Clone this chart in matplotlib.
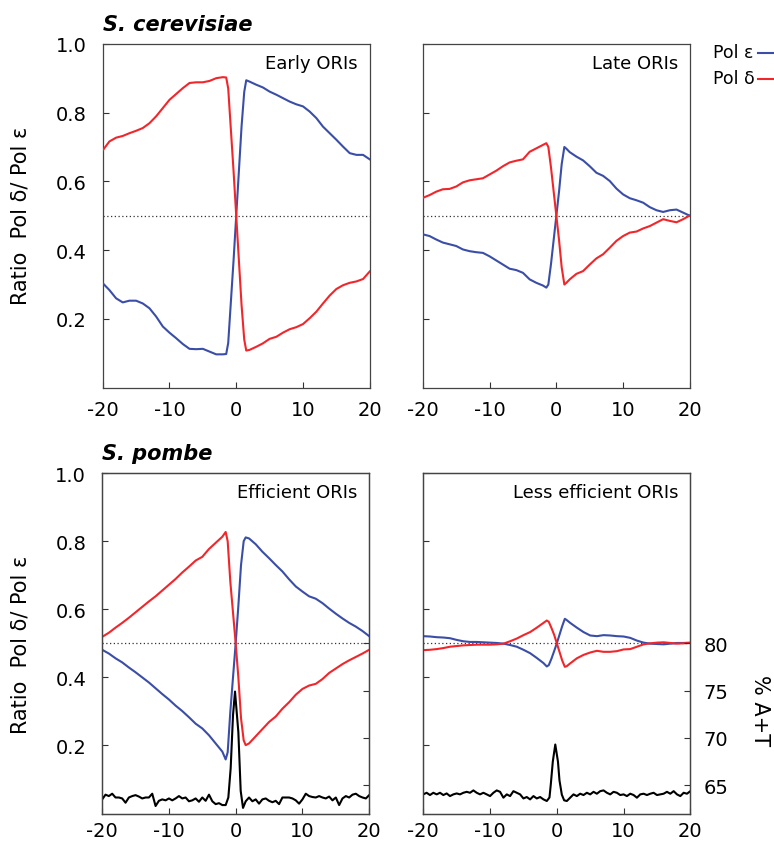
import numpy as np
import matplotlib
matplotlib.use('Agg')
from matplotlib import pyplot as plt
from matplotlib.lines import Line2D

# ---- data (distance to ORI, kb) ----
x_ratio = list(range(-20, -1)) + [-1.5, -1.2, -0.8, -0.4, 0, 0.4, 0.8, 1.2, 1.5] + list(range(2, 21))

# S. cerevisiae, early ORIs
sc_early_delta = [0.690, 0.716, 0.727, 0.732, 0.740, 0.747, 0.755, 0.769, 0.789, 0.813,
                  0.837, 0.854, 0.871, 0.886, 0.888, 0.888, 0.892, 0.900, 0.903,
                  0.902, 0.87, 0.75, 0.63, 0.50, 0.37, 0.24, 0.14, 0.108,
                  0.110, 0.119, 0.129, 0.142, 0.148, 0.160, 0.170, 0.176, 0.185, 0.202,
                  0.221, 0.245, 0.268, 0.287, 0.298, 0.305, 0.309, 0.316, 0.338]
sc_early_eps = [0.304, 0.284, 0.260, 0.248, 0.253, 0.253, 0.245, 0.231, 0.207, 0.178,
                0.160, 0.144, 0.127, 0.113, 0.112, 0.113, 0.105, 0.097, 0.097,
                0.098, 0.13, 0.25, 0.37, 0.50, 0.63, 0.76, 0.86, 0.894,
                0.890, 0.881, 0.873, 0.861, 0.852, 0.842, 0.832, 0.824, 0.818, 0.803,
                0.784, 0.759, 0.740, 0.721, 0.701, 0.682, 0.677, 0.677, 0.664]

# S. cerevisiae, late ORIs
sc_late_delta = [0.552, 0.560, 0.570, 0.577, 0.578, 0.585, 0.597, 0.603, 0.606, 0.609,
                 0.620, 0.631, 0.644, 0.655, 0.660, 0.664, 0.686, 0.696, 0.706,
                 0.711, 0.70, 0.64, 0.57, 0.50, 0.43, 0.35, 0.30, 0.305,
                 0.315, 0.331, 0.339, 0.358, 0.376, 0.388, 0.407, 0.427, 0.441, 0.451,
                 0.454, 0.463, 0.470, 0.480, 0.490, 0.485, 0.481, 0.490, 0.501]
sc_late_eps = [0.446, 0.441, 0.431, 0.422, 0.417, 0.412, 0.402, 0.397, 0.394, 0.392,
               0.382, 0.370, 0.358, 0.346, 0.342, 0.334, 0.315, 0.305, 0.297,
               0.291, 0.30, 0.36, 0.43, 0.50, 0.57, 0.65, 0.70, 0.695,
               0.685, 0.672, 0.661, 0.644, 0.625, 0.616, 0.601, 0.579, 0.562, 0.551,
               0.545, 0.538, 0.525, 0.516, 0.511, 0.516, 0.518, 0.509, 0.500]

# S. pombe, efficient ORIs
sp_eff_delta = [0.519, 0.531, 0.546, 0.560, 0.575, 0.591, 0.607, 0.623, 0.638, 0.655,
                0.672, 0.689, 0.708, 0.725, 0.743, 0.754, 0.777, 0.795, 0.813,
                0.827, 0.80, 0.68, 0.59, 0.50, 0.40, 0.28, 0.215, 0.201,
                0.206, 0.227, 0.248, 0.269, 0.285, 0.308, 0.327, 0.349, 0.366, 0.376,
                0.381, 0.395, 0.413, 0.426, 0.439, 0.450, 0.460, 0.470, 0.481]
sp_eff_eps = [0.481, 0.470, 0.456, 0.444, 0.429, 0.415, 0.400, 0.385, 0.368, 0.351,
              0.335, 0.317, 0.301, 0.283, 0.264, 0.250, 0.230, 0.206, 0.182,
              0.159, 0.18, 0.30, 0.40, 0.50, 0.61, 0.73, 0.80, 0.811,
              0.808, 0.791, 0.769, 0.750, 0.730, 0.711, 0.688, 0.667, 0.652, 0.638,
              0.631, 0.618, 0.602, 0.587, 0.573, 0.560, 0.549, 0.536, 0.521]

# S. pombe, less efficient ORIs
sp_less_delta = [0.480, 0.481, 0.483, 0.486, 0.490, 0.492, 0.494, 0.495, 0.496, 0.496,
                 0.496, 0.497, 0.499, 0.506, 0.514, 0.524, 0.533, 0.546, 0.560,
                 0.567, 0.563, 0.545, 0.525, 0.50, 0.475, 0.45, 0.431, 0.433,
                 0.441, 0.456, 0.466, 0.473, 0.478, 0.475, 0.475, 0.477, 0.482, 0.483,
                 0.490, 0.497, 0.500, 0.502, 0.503, 0.501, 0.499, 0.500, 0.501]
sp_less_eps = [0.521, 0.520, 0.518, 0.517, 0.515, 0.510, 0.506, 0.504, 0.504, 0.503,
               0.502, 0.501, 0.499, 0.495, 0.490, 0.481, 0.471, 0.457, 0.442,
               0.432, 0.436, 0.455, 0.477, 0.50, 0.525, 0.55, 0.572, 0.568,
               0.560, 0.546, 0.533, 0.523, 0.521, 0.524, 0.523, 0.521, 0.520, 0.516,
               0.508, 0.502, 0.499, 0.498, 0.497, 0.499, 0.501, 0.501, 0.502]

# % A+T around S. pombe ORIs
x_at_eff = list(np.arange(-20, -1.4, 0.5)) + [-1.1, -0.75, -0.4, -0.1, 0.4, 0.75, 1.1] + list(np.arange(1.5, 20.1, 0.5))
at_eff = [63.5, 64.0, 63.85, 64.1, 63.7, 63.7, 63.6, 63.15, 63.7, 63.85,
          63.95, 63.8, 63.6, 63.7, 63.7, 64.1, 62.8, 63.35, 63.5, 63.4,
          63.6, 63.4, 63.6, 63.85, 63.6, 63.7, 63.3, 63.4, 63.6, 63.25,
          63.7, 63.35, 64.0, 63.3, 63.0, 63.1, 62.9, 62.9,
          63.7, 66.8, 72.4, 74.9, 70.6, 64.4, 62.6,
          63.3, 63.7, 63.3, 63.5, 63.05, 63.5, 63.6, 63.35, 63.2, 63.35,
          63.0, 63.7, 63.7, 63.7, 63.6, 63.4, 63.05, 63.5, 64.1, 63.85,
          63.75, 63.7, 63.85, 63.7, 63.6, 63.8, 63.4, 63.7, 62.9, 63.6,
          63.85, 63.7, 64.0, 64.1, 63.85, 63.7, 63.6, 63.95]

x_at_less = list(np.arange(-20, -1.4, 0.5)) + [-1.1, -0.9, -0.6, -0.23, 0.17, 0.4, 0.75, 1.1] + list(np.arange(1.5, 20.1, 0.5))
at_less = [64.03, 64.2, 63.96, 64.2, 64.03, 64.2, 63.96, 64.13, 63.85, 64.03,
           64.13, 64.03, 64.2, 64.3, 64.2, 64.45, 64.2, 64.03, 64.2, 64.03,
           63.85, 64.2, 64.45, 64.3, 63.68, 64.03, 63.85, 64.37, 64.2, 64.03,
           63.6, 63.75, 63.5, 63.85, 63.6, 63.75, 63.5, 63.33,
           63.7, 65.1, 67.5, 69.3, 67.5, 65.5, 64.0, 63.4,
           63.33, 63.68, 64.03, 63.85, 64.1, 63.96, 64.2, 64.03, 64.3, 64.1,
           64.37, 64.45, 64.2, 64.03, 64.3, 64.2, 63.96, 64.03, 63.85, 64.1,
           63.96, 63.68, 64.03, 64.1, 63.96, 64.1, 64.2, 63.96, 64.03, 64.1,
           64.3, 64.1, 64.37, 64.03, 63.85, 64.2, 64.1, 64.37]

panel_labels = ['Early ORIs', 'Late ORIs', 'Efficient ORIs', 'Less efficient ORIs']
xticks = [-20, -10, 0, 10, 20]
yticks = [0.2, 0.4, 0.6, 0.8, 1.0]
at_ticks = [65, 70, 75, 80]

blue = '#3a4ea8'
red = '#f2262a'
fs = 14

plt.rcParams['font.family'] = 'DejaVu Sans'
plt.rcParams['axes.unicode_minus'] = False
fig = plt.figure(figsize=(7.74, 8.45), dpi=100)

positions = [[0.1327, 0.540, 0.345, 0.407], [0.5463, 0.540, 0.345, 0.407],
             [0.1320, 0.036, 0.345, 0.403], [0.5469, 0.036, 0.345, 0.403]]
deltas = [sc_early_delta, sc_late_delta, sp_eff_delta, sp_less_delta]
epss = [sc_early_eps, sc_late_eps, sp_eff_eps, sp_less_eps]

axes = []
for i, pos in enumerate(positions):
    ax = fig.add_axes(pos)
    ax.axhline(0.5, color='#333333', lw=0.9, ls=(0, (1, 2)), zorder=1)
    ax.plot(x_ratio, epss[i], '-', color=blue, lw=1.5, zorder=3)
    ax.plot(x_ratio, deltas[i], '-', color=red, lw=1.5, zorder=3)
    ax.set_xlim(-20, 20)
    ax.set_ylim(0, 1.0)
    ax.set_xticks(xticks)
    ax.set_yticks(yticks)
    ax.tick_params(direction='in', length=4, width=0.8, labelsize=fs,
                   top=False, right=False, color='#333333')
    ax.tick_params(axis='y', pad=11.5)
    ax.tick_params(axis='x', pad=8.5 if i < 2 else 5.0)
    if i % 2 == 1:
        ax.set_yticklabels([])
    ax.text(0.955, 0.945, panel_labels[i], transform=ax.transAxes,
            ha='right', va='center', fontsize=13)
    for s in ax.spines.values():
        s.set_color('#444444')
        s.set_linewidth(0.9)
    axes.append(ax)

# % A+T on a second y axis for S. pombe
for ax, xa, ya, show in [(axes[2], x_at_eff, at_eff, False), (axes[3], x_at_less, at_less, True)]:
    ax2 = ax.twinx()
    ax2.plot(xa, ya, '-', color='black', lw=1.5)
    ax2.set_ylim(62.0, 98.0)
    ax2.set_yticks(at_ticks)
    ax2.tick_params(direction='in', length=4, width=0.8, labelsize=fs, pad=9.5, color='#333333')
    if not show:
        ax2.set_yticklabels([])
    for s in ax2.spines.values():
        s.set_color('#444444')
        s.set_linewidth(0.9)

axes[0].text(0.0, 1.04, 'S. cerevisiae', transform=axes[0].transAxes, fontsize=15,
             fontweight='bold', fontstyle='italic', ha='left', va='baseline')
axes[2].text(0.0, 1.04, 'S. pombe', transform=axes[2].transAxes, fontsize=15,
             fontweight='bold', fontstyle='italic', ha='left', va='baseline')

fig.text(0.0265, 1 - 216 / 845, 'Ratio  Pol δ/ Pol ε', rotation=90, ha='center', va='center', fontsize=15)
fig.text(0.0265, 1 - 645 / 845, 'Ratio  Pol δ/ Pol ε', rotation=90, ha='center', va='center', fontsize=15)
fig.text(0.982, 1 - 711 / 845, '% A+T', rotation=270, ha='center', va='center', fontsize=15)

# legend, text followed by a line sample
fig.text(0.921, 1 - 53 / 845, 'Pol ε', ha='left', va='center', fontsize=12.5)
fig.text(0.921, 1 - 79 / 845, 'Pol δ', ha='left', va='center', fontsize=12.5)
fig.add_artist(Line2D([0.979, 1.02], [1 - 54 / 845, 1 - 54 / 845], color=blue, lw=1.5,
                      transform=fig.transFigure))
fig.add_artist(Line2D([0.979, 1.02], [1 - 79.5 / 845, 1 - 79.5 / 845], color=red, lw=1.5,
                      transform=fig.transFigure))

plt.savefig('out.png', dpi=100)
